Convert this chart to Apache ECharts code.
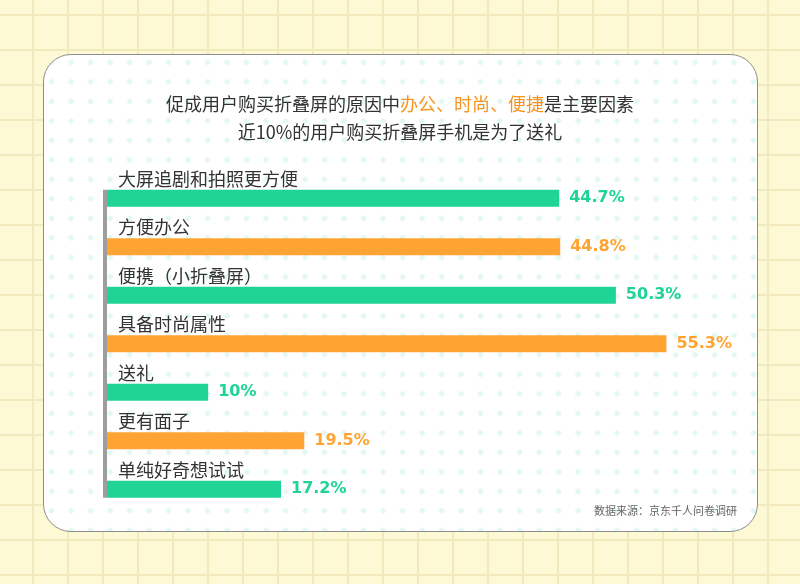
<!DOCTYPE html>
<html>
<head>
<meta charset="utf-8">
<script src="https://cdn.jsdelivr.net/npm/echarts@6/dist/echarts.min.js"></script>
<style>
html,body{margin:0;padding:0;}
body{
  width:800px;height:584px;overflow:hidden;position:relative;
  background-color:#fdf9d4;
  background-image:linear-gradient(to right,#f2eabd 2px,transparent 2px),linear-gradient(to bottom,#f2eabd 2px,transparent 2px);
  background-size:35px 35px;
  background-position:32px 14px;
}
#card{
  position:absolute;left:43px;top:54px;width:715px;height:478px;box-sizing:border-box;
  border:1.5px solid #8c8c8c;border-radius:28px;
  background-color:#ffffff;
  background-image:radial-gradient(circle,#e4f8f3 2.4px,transparent 3px);
  background-size:19.5px 19.5px;
  background-position:-2.2px -2.4px;
}
#chart{position:absolute;left:0;top:0;width:800px;height:584px;}
</style>
</head>
<body>
<div id="card"></div>
<div id="chart"></div>
<script>
const categories = ['大屏追剧和拍照更方便','方便办公','便携（小折叠屏）','具备时尚属性','送礼','更有面子','单纯好奇想试试'];
const values = [44.7, 44.8, 50.3, 55.3, 10, 19.5, 17.2];
const valueLabels = ['44.7%','44.8%','50.3%','55.3%','10%','19.5%','17.2%'];
const colorKeys = ['green','orange','green','orange','green','orange','green'];
const titleLine1 = ['促成用户购买折叠屏的原因中', '办公、时尚、便捷', '是主要因素'];
const titleLine2 = '近10%的用户购买折叠屏手机是为了送礼';
const sourceText = '数据来源：京东千人问卷调研';

const palette = {green:'#1fd495', orange:'#ffa433'};
const CJK = '"Noto Sans CJK SC","Noto Sans",sans-serif';

const chart = echarts.init(document.getElementById('chart'), null, {renderer:'canvas'});

const barData = values.map((v,i)=>({
  value:v,
  itemStyle:{color:palette[colorKeys[i]]},
  label:{color:palette[colorKeys[i]], formatter:valueLabels[i]}
}));

const option = {
  backgroundColor:'transparent',
  animation:false,
  title:[
    {
      text:'{a|'+titleLine1[0]+'}{o|'+titleLine1[1]+'}{a|'+titleLine1[2]+'}',
      left:'center', top:86,
      textStyle:{
        fontWeight:'normal',
        rich:{
          a:{fontSize:18,color:'#333333',fontFamily:CJK,fontWeight:'normal',lineHeight:26},
          o:{fontSize:18,color:'#f7931e',fontFamily:CJK,fontWeight:'normal',lineHeight:26}
        }
      }
    },
    {
      text:titleLine2,
      left:'center', top:114,
      textStyle:{fontSize:18,color:'#333333',fontFamily:CJK,fontWeight:'normal',lineHeight:26}
    },
    {
      text:sourceText,
      right:58, top:500,
      textStyle:{fontSize:11,color:'#666666',fontFamily:CJK,fontWeight:'normal'}
    }
  ],
  grid:{left:107, top:174, height:339.5, right:86},
  xAxis:{type:'value', min:0, max:60, show:false},
  yAxis:{
    type:'category', data:categories, inverse:true,
    axisLine:{show:false}, axisTick:{show:false}, axisLabel:{show:false}, splitLine:{show:false}
  },
  series:[
    {
      type:'bar', data:barData, barWidth:17,
      label:{show:true, position:'right', distance:10, fontSize:16, fontWeight:'bold', fontFamily:'"DejaVu Sans",sans-serif'}
    },
    {
      type:'bar', data:values, barWidth:17, barGap:'-100%',
      itemStyle:{color:'rgba(0,0,0,0)'},
      label:{show:true, position:[11,-11], verticalAlign:'middle', align:'left', formatter:'{b}', fontSize:18, color:'#333333', fontFamily:CJK},
      silent:true
    }
  ]
};
chart.setOption(option);

// vertical axis line from top of first bar to bottom of last bar
const p0 = chart.convertToPixel({gridIndex:0}, [0, 0]);
const pN = chart.convertToPixel({gridIndex:0}, [0, categories.length-1]);
chart.setOption({
  graphic:[{
    type:'rect', z:10,
    shape:{x:p0[0]-4, y:p0[1]-8.5, width:4, height:(pN[1]+8.5)-(p0[1]-8.5)},
    style:{fill:'#9e9e9e'}
  }]
});
</script>
</body>
</html>
